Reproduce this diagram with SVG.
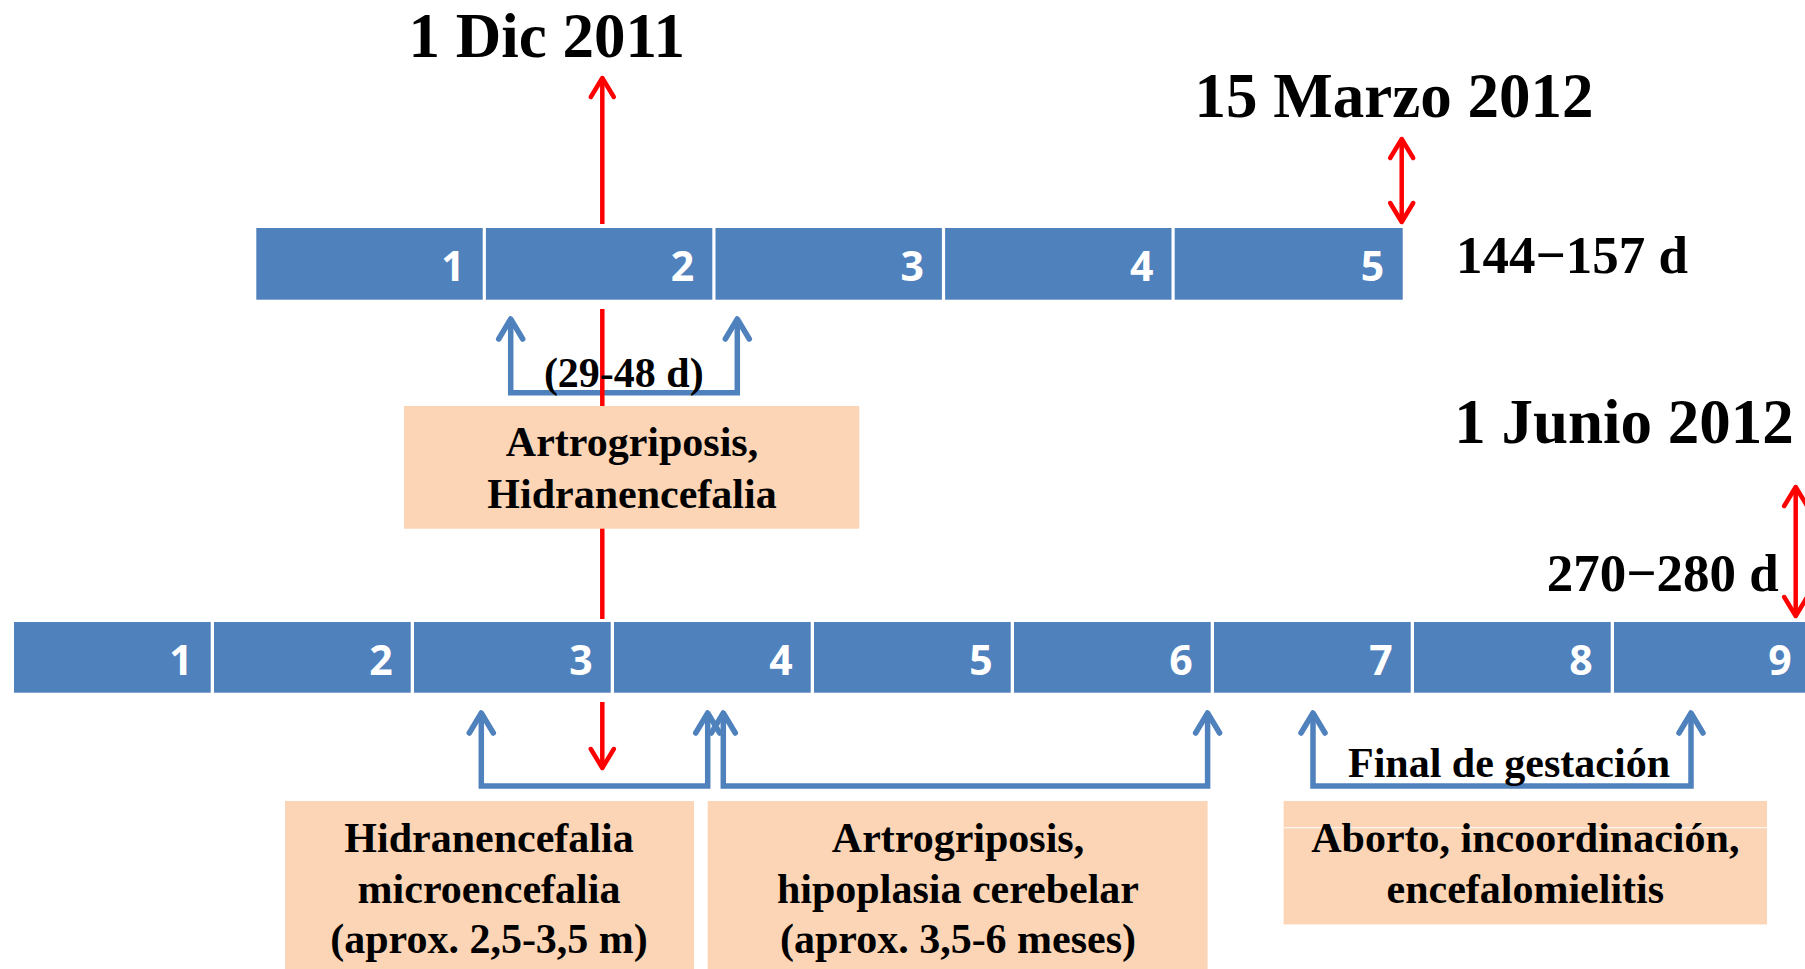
<svg xmlns="http://www.w3.org/2000/svg" width="1805" height="969" viewBox="0 0 1805 969">
<style>
.seg{fill:#4F81BD}
.num{font-family:"Open Sans","Liberation Sans",sans-serif;font-weight:bold;font-size:41px;fill:#fff;text-anchor:middle}
.t{font-family:"Liberation Serif","Times New Roman",serif;font-weight:bold;fill:#000}
.big{font-size:63px;text-anchor:middle}
.mid{font-size:53px}
.lbl{font-size:42px;text-anchor:middle}
.box{fill:#FBD5B5}
.blue{fill:none;stroke:#4F81BD;stroke-width:5.5}
.red{fill:none;stroke:#FF0000;stroke-width:4.5}
</style>
<defs>
<marker id="ab" markerUnits="userSpaceOnUse" viewBox="-28 -17 32 34" refX="0" refY="0" markerWidth="32" markerHeight="34" orient="auto-start-reverse">
<path d="M-20,-12 L0,0 L-20,12" fill="none" stroke="#4F81BD" stroke-width="5.5" stroke-linecap="round" stroke-linejoin="round"/>
</marker>
<marker id="ar" markerUnits="userSpaceOnUse" viewBox="-28 -17 32 34" refX="0" refY="0" markerWidth="32" markerHeight="34" orient="auto-start-reverse">
<path d="M-19,-11.5 L0,0 L-19,11.5" fill="none" stroke="#FF0000" stroke-width="4.5" stroke-linecap="round" stroke-linejoin="round"/>
</marker>
</defs>

<g id="top-bar">
<rect class="seg" x="256.3" y="228" width="226.4" height="71.7"/>
<rect class="seg" x="485.9" y="228" width="226.4" height="71.7"/>
<rect class="seg" x="715.5" y="228" width="226.4" height="71.7"/>
<rect class="seg" x="945.1" y="228" width="226.4" height="71.7"/>
<rect class="seg" x="1174.7" y="228" width="228" height="71.7"/>
<text class="num" x="453" y="281">1</text>
<text class="num" x="682.6" y="281">2</text>
<text class="num" x="912.2" y="281">3</text>
<text class="num" x="1141.8" y="281">4</text>
<text class="num" x="1372.4" y="281">5</text>
</g>

<g id="bottom-bar">
<rect class="seg" x="14" y="622" width="196.7" height="70.7"/>
<rect class="seg" x="214" y="622" width="196.7" height="70.7"/>
<rect class="seg" x="414" y="622" width="196.7" height="70.7"/>
<rect class="seg" x="614" y="622" width="196.7" height="70.7"/>
<rect class="seg" x="814" y="622" width="196.7" height="70.7"/>
<rect class="seg" x="1014" y="622" width="196.7" height="70.7"/>
<rect class="seg" x="1214" y="622" width="196.7" height="70.7"/>
<rect class="seg" x="1414" y="622" width="196.7" height="70.7"/>
<rect class="seg" x="1614" y="622" width="196.7" height="70.7"/>
<text class="num" x="181" y="675">1</text>
<text class="num" x="381" y="675">2</text>
<text class="num" x="581" y="675">3</text>
<text class="num" x="781" y="675">4</text>
<text class="num" x="981" y="675">5</text>
<text class="num" x="1181" y="675">6</text>
<text class="num" x="1381" y="675">7</text>
<text class="num" x="1581" y="675">8</text>
<text class="num" x="1780" y="675">9</text>
</g>

<g id="connectors">
<path class="red" d="M602.3,224 L602.3,78" marker-end="url(#ar)"/>
<path class="red" d="M1401.7,222 L1401.7,139" marker-start="url(#ar)" marker-end="url(#ar)"/>
<path class="red" d="M1795.7,616 L1795.7,487" marker-start="url(#ar)" marker-end="url(#ar)"/>
<path class="blue" d="M510.7,319 L510.7,392.7 L737.3,392.7 L737.3,319" marker-start="url(#ab)" marker-end="url(#ab)"/>
<path class="red" d="M602.3,309 L602.3,619"/>
<path class="blue" d="M481.3,713 L481.3,786 L707.7,786 L707.7,713" marker-start="url(#ab)" marker-end="url(#ab)"/>
<path class="blue" d="M723.3,713 L723.3,786 L1207.6,786 L1207.6,713" marker-start="url(#ab)" marker-end="url(#ab)"/>
<path class="blue" d="M1313,713 L1313,786 L1691,786 L1691,713" marker-start="url(#ab)" marker-end="url(#ab)"/>
<path class="red" d="M602.3,702 L602.3,768" marker-end="url(#ar)"/>
</g>

<g id="date-dic">
<text class="t big" x="546.7" y="57">1 Dic 2011</text>
</g>
<g id="date-marzo">
<text class="t big" x="1394" y="117">15 Marzo 2012</text>
</g>
<g id="days-157">
<text class="t mid" x="1456" y="273">144−157 d</text>
</g>
<g id="date-junio">
<text class="t big" x="1624" y="443">1 Junio 2012</text>
</g>
<g id="days-280">
<text class="t mid" x="1546.7" y="591">270−280 d</text>
</g>
<g id="label-29-48">
<text class="t lbl" x="623.8" y="387">(29-48 d)</text>
</g>
<g id="label-final">
<text class="t lbl" x="1509" y="777">Final de gestación</text>
</g>

<g id="box-top">
<rect class="box" x="404" y="406" width="455.3" height="122.7"/>
<text class="t lbl" x="632" y="456">Artrogriposis,</text>
<text class="t lbl" x="632" y="508">Hidranencefalia</text>
</g>

<g id="box-hidra">
<rect class="box" x="285" y="801" width="409" height="168"/>
<text class="t lbl" x="489" y="852">Hidranencefalia</text>
<text class="t lbl" x="489" y="903">microencefalia</text>
<text class="t lbl" x="489" y="953">(aprox. 2,5-3,5 m)</text>
</g>

<g id="box-artro">
<rect class="box" x="707.7" y="801" width="499.9" height="168"/>
<text class="t lbl" x="958" y="852">Artrogriposis,</text>
<text class="t lbl" x="958" y="903">hipoplasia cerebelar</text>
<text class="t lbl" x="958" y="953">(aprox. 3,5-6 meses)</text>
</g>

<g id="box-aborto">
<rect class="box" x="1283.6" y="801" width="483.4" height="123.4"/>
<line x1="1283.6" y1="827.7" x2="1767" y2="827.7" stroke="#fff" stroke-width="1"/>
<text class="t lbl" x="1525.3" y="852">Aborto, incoordinación,</text>
<text class="t lbl" x="1525.3" y="903">encefalomielitis</text>
</g>
</svg>
